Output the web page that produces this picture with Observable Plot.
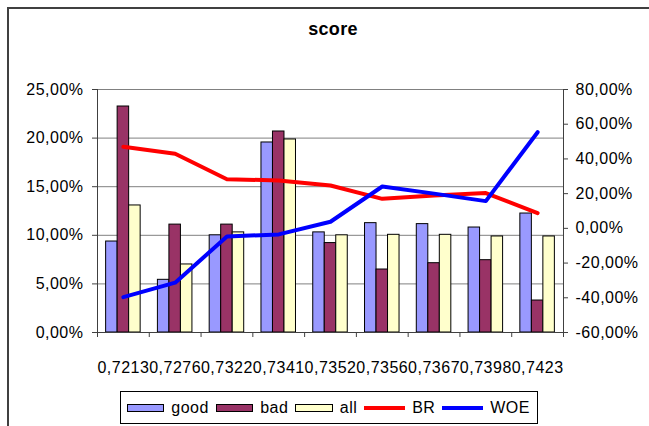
<!DOCTYPE html>
<html>
<head>
<meta charset="utf-8">
<script src="https://cdn.jsdelivr.net/npm/d3@7"></script>
<script src="https://cdn.jsdelivr.net/npm/@observablehq/plot@0.6"></script>
<style>
  html, body { margin: 0; padding: 0; background: #fff; }
  #wrap { position: relative; width: 649px; height: 426px; overflow: hidden; font-family: "Liberation Sans", Arial, sans-serif; }
  #frame { position: absolute; left: 7px; top: 7px; width: 700px; height: 500px; border-left: 2px solid #404040; border-top: 2px solid #404040; box-sizing: border-box; }
  #title { position: absolute; left: 233px; width: 200px; top: 19px; text-align: center; font-weight: bold; font-size: 18px; color: #000; letter-spacing: 0.3px; }
  #chart { position: absolute; left: 0; top: 0; }
  #chart svg text { letter-spacing: 0.5px; }
  #legend { position: absolute; left: 120px; top: 391px; width: 418px; height: 33px; box-sizing: border-box; border: 1px solid #000; display: flex; align-items: center; font-size: 16px; color: #000; letter-spacing: 0.5px; }
  .sw { display: inline-block; width: 40px; height: 8px; border: 1px solid #000; box-sizing: border-box; }
  .ln { display: inline-block; width: 44px; height: 4px; }
  .lab { margin-left: 7px; margin-right: 7px; }
</style>
</head>
<body>
<div id="wrap">
  <div id="frame"></div>
  <div id="chart"></div>
  <div id="title">score</div>
  <div id="legend"></div>
</div>
<script>
const categories = ["0,7213","0,7276","0,7322","0,7341","0,7352","0,7356","0,7367","0,7398","0,7423"];
const good = [0.0936,0.0542,0.1000,0.1955,0.1030,0.1125,0.1115,0.1080,0.1224];
const bad  = [0.2325,0.1110,0.1110,0.2068,0.0920,0.0648,0.0713,0.0744,0.0329];
const all  = [0.1307,0.0700,0.1030,0.1986,0.1000,0.1005,0.1005,0.0988,0.0988];
const BR   = [0.470,0.430,0.283,0.276,0.247,0.170,0.189,0.203,0.088];
const WOE  = [-0.396,-0.313,-0.047,-0.035,0.038,0.241,0.200,0.157,0.554];
const leftTicks = [0,0.05,0.10,0.15,0.20,0.25];
const rightTicks = [-0.6,-0.4,-0.2,0,0.2,0.4,0.6,0.8];

const seriesNames = ["good","bad","all"];
const seriesColors = {good: "#9999FF", bad: "#993366", all: "#FFFFCC"};

// right axis domain [-0.6, 0.8] mapped onto left domain [0, 0.25]
const rMin = -0.6, rMax = 0.8, lMax = 0.25;
const toLeft = r => (r - rMin) / (rMax - rMin) * lMax;
const fromLeft = l => l / lMax * (rMax - rMin) + rMin;
const fmt = v => (Math.round(v * 10000) / 100).toFixed(2).replace(".", ",") + "%";

const barW = 1 / 4.5, gapOff = 0.75 * barW;
const bars = [];
categories.forEach((c, i) => {
  [good, bad, all].forEach((arr, j) => {
    bars.push({i, series: seriesNames[j], value: arr[i], x1: i + gapOff + j * barW, x2: i + gapOff + (j + 1) * barW});
  });
});
const brData = BR.map((v, i) => ({x: i + 0.5, y: toLeft(v)}));
const woeData = WOE.map((v, i) => ({x: i + 0.5, y: toLeft(v)}));

const plot = Plot.plot({
  width: 649, height: 385,
  marginLeft: 97, marginRight: 86, marginTop: 89, marginBottom: 53,
  x: {type: "linear", domain: [0, categories.length], axis: null},
  y: {domain: [0, lMax], axis: null},
  style: {fontFamily: "'Liberation Sans', Arial, sans-serif", fontSize: "16px", color: "#000", background: "transparent"},
  marks: [
    Plot.ruleY(leftTicks, {stroke: "#808080", strokeWidth: 1}),
    Plot.rectY(bars, {x1: "x1", x2: "x2", y: "value", fill: d => seriesColors[d.series], stroke: "#000", strokeWidth: 1}),
    Plot.ruleX([0, categories.length], {stroke: "#404040", strokeWidth: 1}),
    Plot.ruleY([0], {stroke: "#404040", strokeWidth: 1}),
    Plot.line(brData, {x: "x", y: "y", stroke: "#FF0000", strokeWidth: 4, strokeLinejoin: "round", strokeLinecap: "round"}),
    Plot.line(woeData, {x: "x", y: "y", stroke: "#0000FF", strokeWidth: 4, strokeLinejoin: "round", strokeLinecap: "round"}),
    Plot.axisY({anchor: "left", ticks: leftTicks, tickFormat: fmt, tickSize: 5, tickPadding: 9, stroke: "#404040", fontSize: 16}),
    Plot.axisY({anchor: "right", ticks: rightTicks.map(toLeft), tickFormat: d => fmt(fromLeft(d)), tickSize: 4, tickPadding: 8, stroke: "#404040", fontSize: 16}),
    Plot.axisX({anchor: "bottom", ticks: d3.range(categories.length + 1), tickFormat: () => "", tickSize: 5, stroke: "#404040"}),
    Plot.axisX({anchor: "bottom", ticks: categories.map((c, i) => i + 0.5), tickFormat: d => categories[Math.floor(d)], tickSize: 0, tickPadding: 29, fontSize: 16})
  ]
});
document.getElementById("chart").appendChild(plot);

const legend = document.getElementById("legend");
legend.style.paddingLeft = "6px";
const items = [
  {name: "good", kind: "sw", color: seriesColors.good},
  {name: "bad", kind: "sw", color: seriesColors.bad},
  {name: "all", kind: "sw", color: seriesColors.all},
  {name: "BR", kind: "ln", color: "#FF0000"},
  {name: "WOE", kind: "ln", color: "#0000FF"}
];
items.forEach(it => {
  const s = document.createElement("span");
  s.className = it.kind;
  s.style.background = it.color;
  legend.appendChild(s);
  const t = document.createElement("span");
  t.className = "lab";
  t.textContent = it.name;
  legend.appendChild(t);
});
</script>
</body>
</html>
